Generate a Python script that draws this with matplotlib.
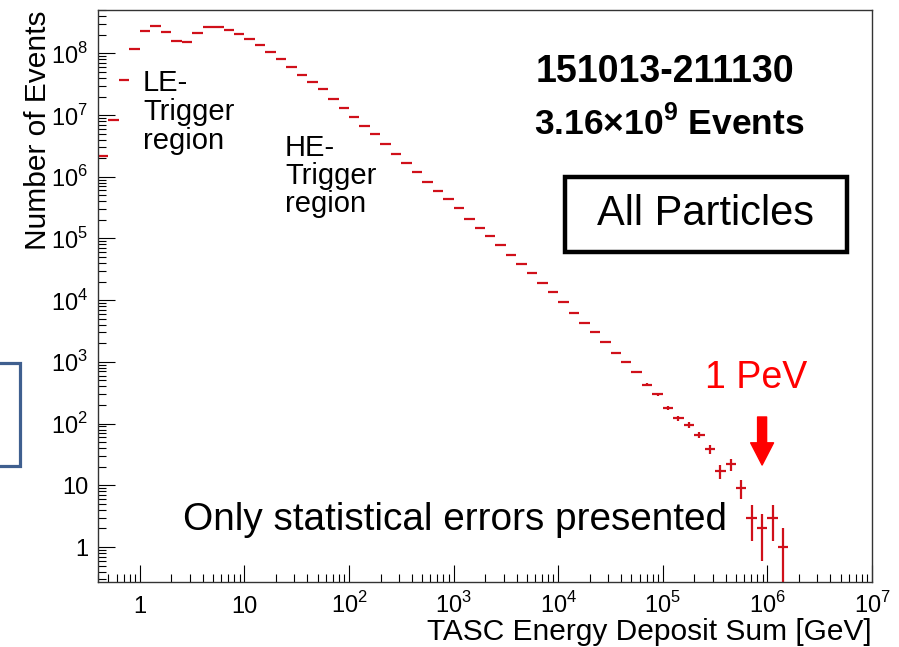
import numpy as np
import matplotlib
matplotlib.use('Agg')
import matplotlib.pyplot as plt
from matplotlib.patches import Rectangle
from matplotlib.ticker import FixedLocator, LogLocator, NullFormatter

plt.rcParams['font.family'] = ['Liberation Sans', 'DejaVu Sans']
plt.rcParams['mathtext.fontset'] = 'custom'
plt.rcParams['mathtext.rm'] = 'Liberation Sans'
plt.rcParams['mathtext.bf'] = 'Liberation Sans:bold'

# histogram: lower edge of each bin in log10(E/GeV), 10 bins per decade
bin_low_log = np.round(np.arange(-0.4, 6.15, 0.1), 1)
counts = [2.2e6, 8.3e6, 3.7e7, 1.17e8, 2.3e8, 2.75e8, 2.24e8, 1.58e8, 1.51e8, 2.14e8,
          2.69e8, 2.69e8, 2.4e8, 2.04e8, 1.7e8, 1.38e8, 1.05e8, 8.1e7, 6.0e7, 4.5e7,
          3.5e7, 2.6e7, 1.8e7, 1.3e7, 9.3e6, 6.6e6, 4.9e6, 3.4e6, 2.3e6, 1.66e6,
          1.2e6, 8.3e5, 5.9e5, 4.4e5, 3.1e5, 2.1e5, 1.5e5, 1.1e5, 7.8e4, 5.4e4,
          3.9e4, 2.75e4, 1.9e4, 1.35e4, 9300, 6200, 4300, 3000, 2100, 1400,
          1000, 690, 430, 300, 178, 123, 95, 66, 39, 17,
          22, 9, 3, 2, 3, 1]

x_ticks = [1, 10, 1e2, 1e3, 1e4, 1e5, 1e6, 1e7]
x_ticklabels = ['1', '10', '10$^{2}$', '10$^{3}$', '10$^{4}$', '10$^{5}$', '10$^{6}$', '10$^{7}$']
y_ticks = [1, 10, 1e2, 1e3, 1e4, 1e5, 1e6, 1e7, 1e8]
y_ticklabels = ['1', '10', '10$^{2}$', '10$^{3}$', '10$^{4}$', '10$^{5}$', '10$^{6}$', '10$^{7}$', '10$^{8}$']

red = '#d0101a'

fig = plt.figure(figsize=(8.99, 6.47), dpi=100)
ax = fig.add_axes([98 / 899, 1 - 582 / 647, 774 / 899, 572 / 647])

lo = 10 ** bin_low_log
hi = 10 ** (bin_low_log + 0.1)
xc = np.sqrt(lo * hi)
n = np.array(counts, dtype=float)
err = np.sqrt(n)
err_lo = np.minimum(err, n - 1e-3)

ax.errorbar(xc, n, xerr=[xc - lo, hi - xc], yerr=[err_lo, err], fmt='none',
            ecolor=red, elinewidth=1.6, capsize=0)

ax.set_xscale('log')
ax.set_yscale('log')
ax.set_xlim(10 ** -0.4, 1e7)
ax.set_ylim(10 ** -0.567, 10 ** 8.703)

ax.xaxis.set_major_locator(FixedLocator(x_ticks))
ax.set_xticklabels(x_ticklabels)
ax.yaxis.set_major_locator(FixedLocator(y_ticks))
ax.set_yticklabels(y_ticklabels)
ax.xaxis.set_minor_locator(LogLocator(base=10, subs=np.arange(2, 10), numticks=30))
ax.yaxis.set_minor_locator(LogLocator(base=10, subs=np.arange(2, 10), numticks=30))
ax.xaxis.set_minor_formatter(NullFormatter())
ax.yaxis.set_minor_formatter(NullFormatter())

ax.tick_params(which='both', direction='in', top=False, right=False, width=0.8,
               labelsize=17, colors='black')
ax.tick_params(which='major', length=12.5)
ax.tick_params(which='minor', length=6)
ax.tick_params(axis='x', which='major', pad=22)
ax.tick_params(axis='y', which='major', pad=7)
for lbl in ax.get_xticklabels():
    lbl.set_verticalalignment('baseline')
for sp in ax.spines.values():
    sp.set_linewidth(1.0)
    sp.set_color('#333333')

# axis titles
fig.text(38 / 899, 1 - 10 / 647, 'Number of Events', rotation=90, ha='center', va='top', fontsize=21.5)
fig.text(872 / 899, 1 - 632 / 647, 'TASC Energy Deposit Sum [GeV]', ha='right', va='center', fontsize=21.5)

# annotations
ax.text(0.565, 0.892, '151013-211130', transform=ax.transAxes, ha='left', va='center',
        fontsize=27, fontweight='bold')
ax.text(0.563, 0.8025, '3.16×10$^{\\mathbf{9}}$ Events', transform=ax.transAxes, ha='left',
        va='center', fontsize=25.5, fontweight='bold')

ax.text(0.058, 0.897, 'LE-\nTrigger\nregion', transform=ax.transAxes, ha='left', va='top',
        fontsize=21, linespacing=1.05)
ax.text(0.2416, 0.783, 'HE-\nTrigger\nregion', transform=ax.transAxes, ha='left', va='top',
        fontsize=21, linespacing=1.0)

ax.add_patch(Rectangle(((565 - 98) / 774, (582 - 252) / 572), 282 / 774, 75 / 572,
                       transform=ax.transAxes, fill=False, edgecolor='black', linewidth=3.2))
ax.text(0.7855, 0.6425, 'All Particles', transform=ax.transAxes, ha='center', va='center',
        fontsize=30)

ax.text(0.1098, 0.108, 'Only statistical errors presented', transform=ax.transAxes,
        ha='left', va='center', fontsize=27.9)

ax.text(0.850, 0.357, '1 PeV', transform=ax.transAxes, ha='center', va='center',
        fontsize=27, color='#ff0000')
ax.annotate('', xy=(0.858, 0.2045), xytext=(0.858, 0.2885), xycoords='axes fraction',
            arrowprops=dict(facecolor='#ff0000', edgecolor='#ff0000', width=6.5,
                            headwidth=16.5, headlength=16, shrink=0))

# partial blue frame at left edge of the slide
fig.add_artist(Rectangle((-0.02, 1 - 466 / 647), 0.02 + 20 / 899, 103 / 647,
                         transform=fig.transFigure, fill=False, edgecolor='#3f5f8f',
                         linewidth=2.3, clip_on=False))

fig.savefig('out.png', dpi=100)
